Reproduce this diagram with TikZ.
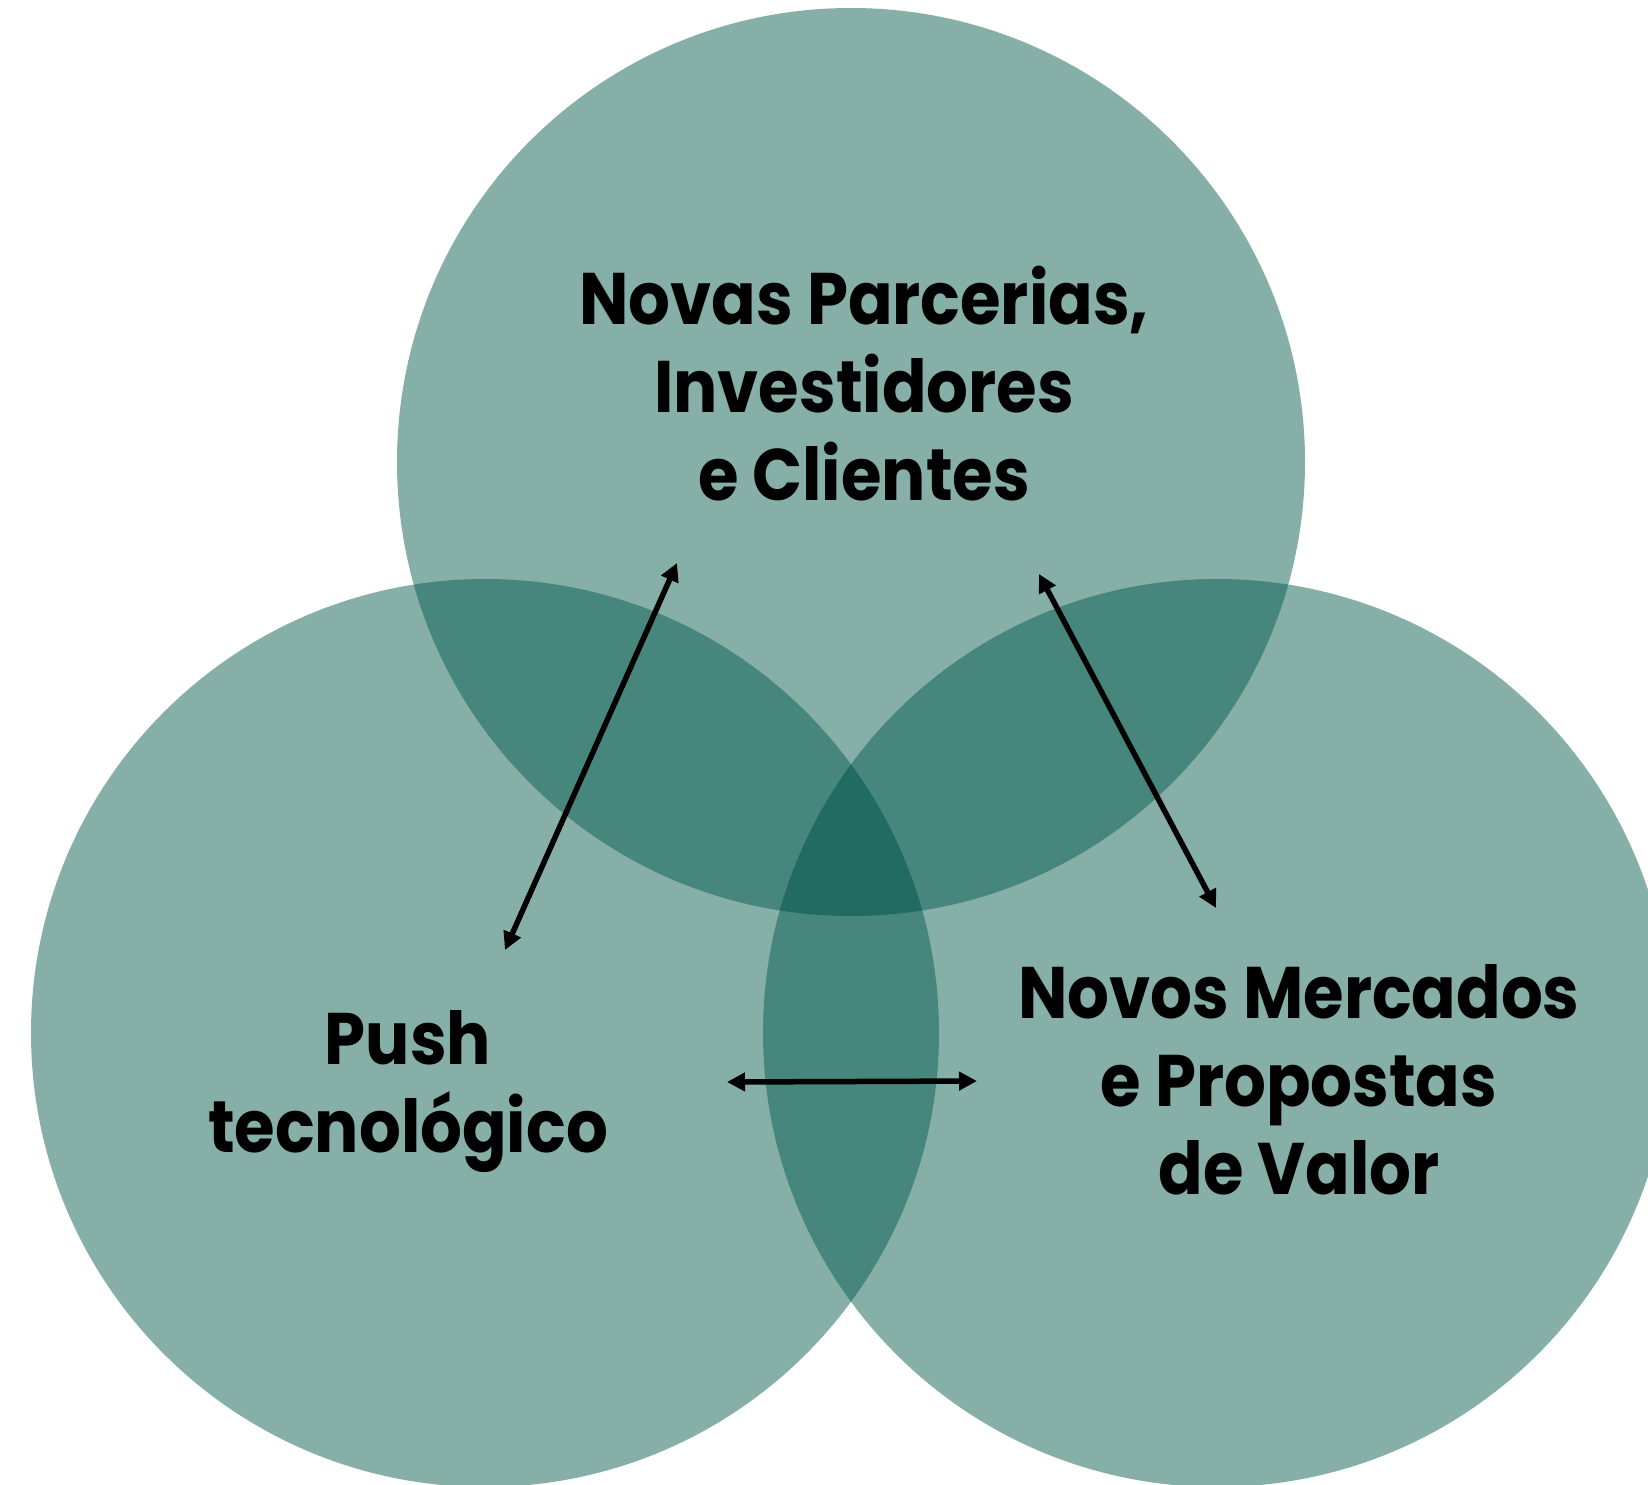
\documentclass[tikz,border=0pt]{standalone}
\usepackage{fontspec}
\setmainfont{Poppins}[FakeStretch=0.9]
\usetikzlibrary{arrows.meta}
\definecolor{lightc}{RGB}{134,175,168}
\definecolor{midc}{RGB}{71,134,124}
\definecolor{darkc}{RGB}{34,107,98}
\tikzset{
  label/.style={font=\bfseries\fontsize{73}{88}\selectfont, align=center, text=black, inner sep=0pt},
  dblarrow/.style={{Triangle[length=18pt,width=18pt]}-{Triangle[length=18pt,width=18pt]}, line width=5.5pt, black}
}
\begin{document}
\begin{tikzpicture}[x=1pt,y=-1pt]
\useasboundingbox (0,0) rectangle (1648,1484);
\clip (0,0) rectangle (1648,1484);
\def\R{454}
\coordinate (ct) at (851,462);
\coordinate (cl) at (485,1033);
\coordinate (cr) at (1217,1033);
% base circles
\fill[lightc] (ct) circle[radius=\R];
\fill[lightc] (cl) circle[radius=\R];
\fill[lightc] (cr) circle[radius=\R];
% pairwise overlaps
\begin{scope}\clip (ct) circle[radius=\R]; \fill[midc] (cl) circle[radius=\R]; \end{scope}
\begin{scope}\clip (ct) circle[radius=\R]; \fill[midc] (cr) circle[radius=\R]; \end{scope}
\begin{scope}\clip (cl) circle[radius=\R]; \fill[midc] (cr) circle[radius=\R]; \end{scope}
% triple overlap
\begin{scope}\clip (ct) circle[radius=\R]; \clip (cl) circle[radius=\R]; \fill[darkc] (cr) circle[radius=\R]; \end{scope}
% labels
\node[label] (top) at (864,384) {Novas Parcerias,\\Investidores\\e Clientes};
\node[label] (left) at (408,1092) {Push\\tecnológico};
\node[label] (right) at (1299,1080) {Novos Mercados\\e Propostas\\de Valor};
% arrow ends
\coordinate (a1) at (677,563);
\coordinate (b1) at (505,950);
\coordinate (a2) at (1039,574);
\coordinate (b2) at (1216,908);
\coordinate (a3) at (727,1082);
\coordinate (b3) at (977,1081);
\draw[dblarrow] (b1) -- (a1);
\draw[dblarrow] (a2) -- (b2);
\draw[dblarrow] (a3) -- (b3);
\end{tikzpicture}
\end{document}
